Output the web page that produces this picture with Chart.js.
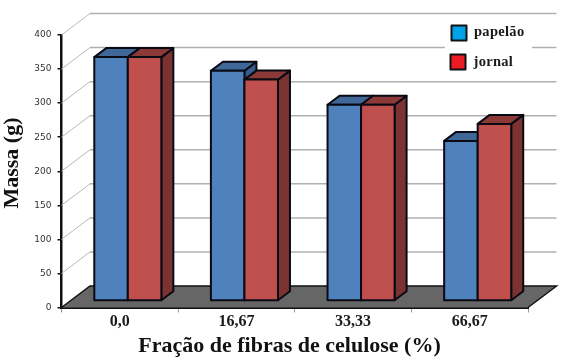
<!DOCTYPE html>
<html>
<head>
<meta charset="utf-8">
<style>
    html, body { margin: 0; padding: 0; background: #fff; }
    canvas { display: block; }
</style>
<script src="https://cdn.jsdelivr.net/npm/chart.js@4/dist/chart.umd.min.js"></script>
</head>
<body>
<canvas id="chartMassa" width="567" height="361"></canvas>
<script>
var categories = ['0,0', '16,67', '33,33', '66,67'];
var papelao = [358, 338, 288, 235];
var jornal = [358, 325, 288, 260];
var yTicks = [0, 50, 100, 150, 200, 250, 300, 350, 400];
var xTitle = 'Fração de fibras de celulose (%)';
var yTitle = 'Massa (g)';

// depth of the fake 3D box: wall, and each bar's own
var WALL = { dx: 28.5, dy: -21.5 };
var BAR_SHIFT = { dx: 8, dy: -6.5 };
var BAR_DEPTH = { dx: 12, dy: -9 };
var EDGE = '#0a0a14';

function poly(ctx, pts, fill, stroke, lw) {
    ctx.beginPath();
    ctx.moveTo(pts[0][0], pts[0][1]);
    for (var i = 1; i < pts.length; i++) {
        ctx.lineTo(pts[i][0], pts[i][1]);
    }
    ctx.closePath();
    if (fill) {
        ctx.fillStyle = fill;
        ctx.fill();
    }
    if (stroke) {
        ctx.strokeStyle = stroke;
        ctx.lineWidth = lw;
        ctx.lineJoin = 'round';
        ctx.stroke();
    }
}

var box3d = {
    id: 'box3d',
    beforeDatasetsDraw: function (chart) {
        var ctx = chart.ctx;
        var area = chart.chartArea;
        var y = chart.scales.y;

        // Walls
        yTicks.forEach(function (v) {
            if (v === 0) {
                return;
            }
            var py = y.getPixelForValue(v);
            ctx.strokeStyle = '#b8b8b8';
            ctx.lineWidth = 1;
            ctx.beginPath();
            ctx.moveTo(area.left, py);
            ctx.lineTo(area.left + WALL.dx, py + WALL.dy);
            ctx.stroke();
            ctx.strokeStyle = '#b0b0b0';
            ctx.lineWidth = 1.5;
            ctx.beginPath();
            ctx.moveTo(area.left + WALL.dx, py + WALL.dy);
            ctx.lineTo(area.right + WALL.dx, py + WALL.dy);
            ctx.stroke();
        });

        // Floor
        var b = area.bottom;
        poly(ctx, [
            [area.left, b],
            [area.right, b],
            [area.right + WALL.dx, b + WALL.dy],
            [area.left + WALL.dx, b + WALL.dy]
        ], '#666666', null, 0);
        ctx.strokeStyle = '#111';
        ctx.lineWidth = 1.5;
        ctx.beginPath();
        ctx.moveTo(area.left, b);
        ctx.lineTo(area.left + WALL.dx, b + WALL.dy);
        ctx.lineTo(area.right + WALL.dx, b + WALL.dy);
        ctx.lineTo(area.right, b);
        ctx.stroke();

        // Bars, blue series first so the red one sits over its side face
        chart.data.datasets.forEach(function (ds, di) {
            chart.getDatasetMeta(di).data.forEach(function (bar) {
                var l = bar.x - bar.width / 2 + BAR_SHIFT.dx;
                var r = bar.x + bar.width / 2 + BAR_SHIFT.dx;
                var t = bar.y + BAR_SHIFT.dy;
                var bt = bar.base + BAR_SHIFT.dy;
                var dx = BAR_DEPTH.dx;
                var dy = BAR_DEPTH.dy;
                poly(ctx, [[r, t], [r + dx, t + dy], [r + dx, bt + dy], [r, bt]], ds.sideColor, EDGE, 2);
                poly(ctx, [[l, t], [l + dx, t + dy], [r + dx, t + dy], [r, t]], ds.topColor, EDGE, 2);
                ctx.save();
                ctx.translate(BAR_SHIFT.dx, BAR_SHIFT.dy);
                bar.draw(ctx);
                ctx.restore();
                // outline centred on the edge, so neighbours share one line
                poly(ctx, [[l, t], [r, t], [r, bt], [l, bt]], null, EDGE, 2);
            });
        });
        return false;
    }
};

// Legend and axis titles sit off-centre in the reference, so they are placed by hand
var labelsOverlay = {
    id: 'labelsOverlay',
    afterDraw: function (chart) {
        var ctx = chart.ctx;
        ctx.save();
        ctx.fillStyle = '#fff';
        ctx.fillRect(445, 20, 87, 54);
        var rows = [
            { label: chart.data.datasets[0].label, color: '#00a2e8', x: 451.5, y: 25.5, tx: 474, ty: 32 },
            { label: chart.data.datasets[1].label, color: '#ed1c24', x: 450.5, y: 54.5, tx: 473.5, ty: 62 }
        ];
        rows.forEach(function (row) {
            ctx.fillStyle = row.color;
            ctx.fillRect(row.x, row.y, 15, 15);
            ctx.strokeStyle = '#111';
            ctx.lineWidth = 2;
            ctx.strokeRect(row.x, row.y, 15, 15);
            ctx.fillStyle = '#1a1a1a';
            ctx.font = 'bold 14.5px "Liberation Serif"';
            ctx.letterSpacing = '0.3px';
            ctx.textAlign = 'left';
            ctx.textBaseline = 'middle';
            ctx.fillText(row.label, row.tx, row.ty);
        });

        ctx.letterSpacing = '0px';
        ctx.fillStyle = '#111';
        ctx.textAlign = 'center';
        ctx.textBaseline = 'middle';
        ctx.font = 'bold 22px "Liberation Serif"';
        ctx.fillText(xTitle, 289.5, 346);
        ctx.translate(12, 163);
        ctx.rotate(-Math.PI / 2);
        ctx.fillText(yTitle, 0, 0);
        ctx.restore();
    }
};

new Chart(document.getElementById('chartMassa'), {
    type: 'bar',
    data: {
        labels: categories,
        datasets: [{
            label: 'papelão',
            data: papelao,
            backgroundColor: '#4f81bd',
            borderWidth: 0,
            sideColor: '#385d8a',
            topColor: '#3f6797'
        }, {
            label: 'jornal',
            data: jornal,
            backgroundColor: '#c0504d',
            borderWidth: 0,
            sideColor: '#7a3331',
            topColor: '#8c3a38'
        }]
    },
    options: {
        responsive: false,
        animation: false,
        layout: { padding: { top: 35, right: 39, left: 0, bottom: 0 } },
        datasets: { bar: { categoryPercentage: 0.575, barPercentage: 1 } },
        scales: {
            x: {
                afterFit: function (scale) { scale.height = 53.5; },
                grid: { offset: true, drawOnChartArea: false, color: '#999', tickLength: 5, lineWidth: 1 },
                border: { color: '#111', width: 3 },
                ticks: {
                    color: '#1a1a1a',
                    padding: 0,
                    maxRotation: 0,
                    font: { family: '"Liberation Serif"', size: 16, weight: 'bold' }
                }
            },
            y: {
                min: 0,
                max: 400,
                afterFit: function (scale) { scale.width = 61.5; },
                afterBuildTicks: function (scale) {
                    scale.ticks = yTicks.map(function (v) { return { value: v }; });
                },
                grid: { drawOnChartArea: false, color: '#111', tickLength: 4, lineWidth: 1.5 },
                border: { color: '#111', width: 2.5 },
                ticks: {
                    color: '#333',
                    padding: 6,
                    font: { family: '"DejaVu Sans"', size: 9 }
                }
            }
        },
        plugins: {
            legend: { display: false },
            tooltip: { enabled: false }
        }
    },
    plugins: [box3d, labelsOverlay]
});
</script>
</body>
</html>
